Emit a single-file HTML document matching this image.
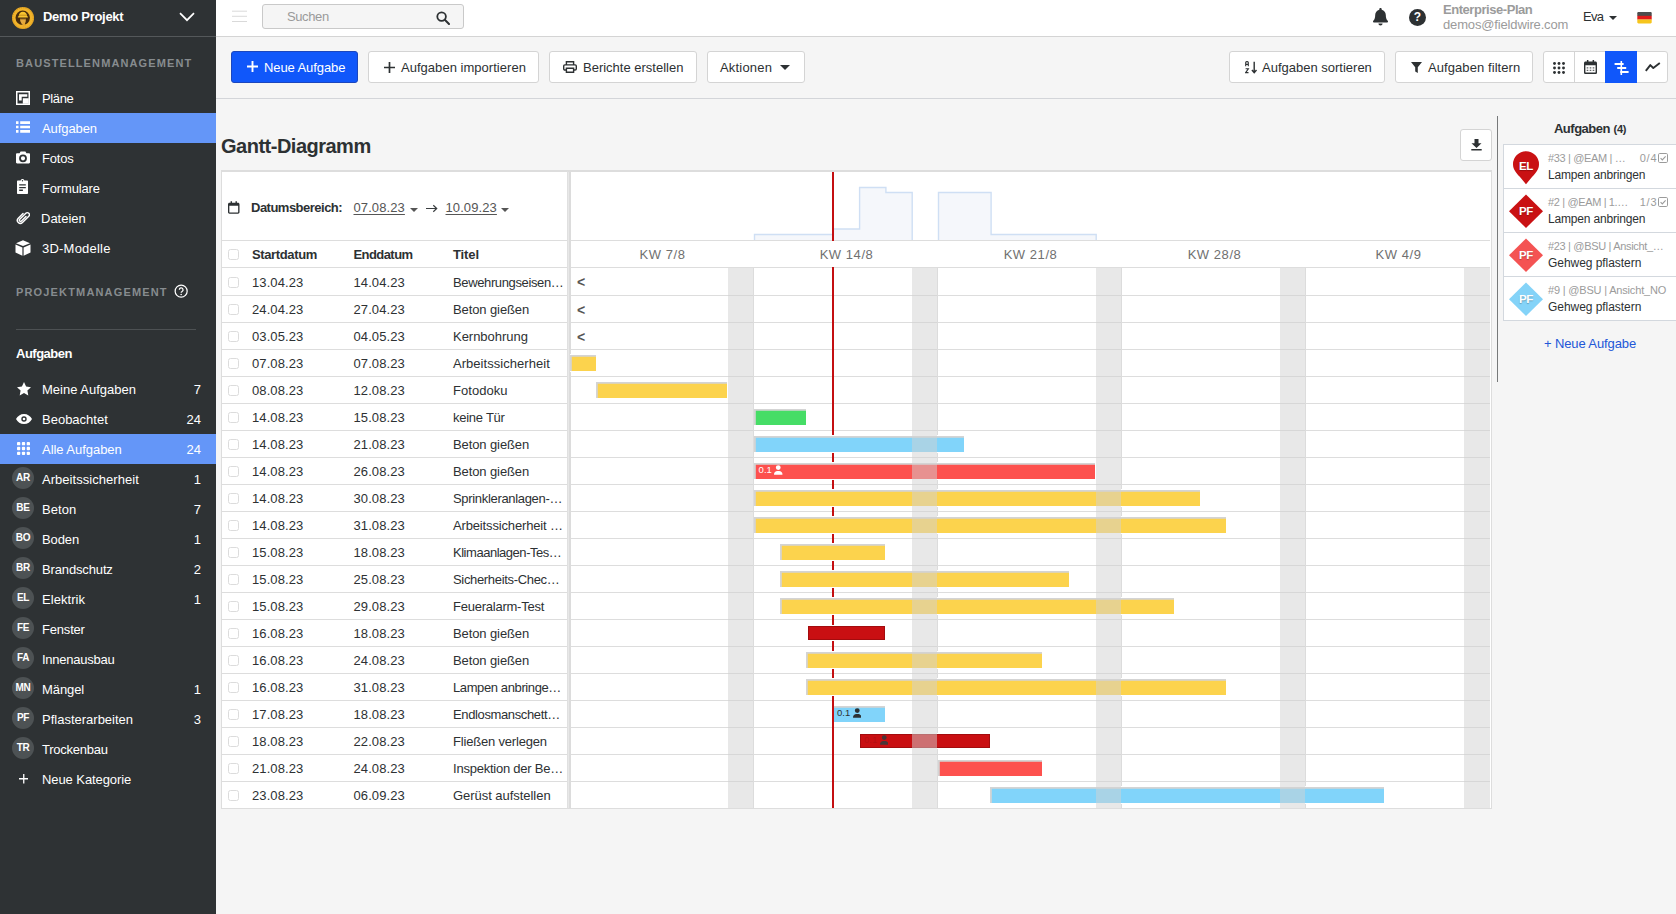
<!DOCTYPE html>
<html lang="de">
<head>
<meta charset="utf-8">
<title>Gantt-Diagramm</title>
<style>
*{box-sizing:border-box;margin:0;padding:0}
html,body{width:1676px;height:914px;overflow:hidden}
body{font-family:"Liberation Sans",sans-serif;-webkit-font-smoothing:antialiased;font-size:14px;color:#2d3133;background:#f5f5f5;position:relative}
svg{display:block}
.abs{position:absolute}
/* ---------- sidebar ---------- */
#sb{position:absolute;left:0;top:0;width:216px;height:914px;background:#2e3234;color:#fff}
#sb .hd{position:absolute;left:0;top:0;width:216px;height:37px;border-bottom:1px solid #54585a}
#sb .logo{position:absolute;left:12px;top:7px;width:22px;height:22px}
#sb .pn{position:absolute;left:43px;top:0;line-height:34px;font-weight:bold;font-size:13px;white-space:nowrap}
#sb .chev{position:absolute;left:179px;top:12px}
#sb .sec{position:absolute;left:16px;font-size:11px;font-weight:bold;color:#878c8f;line-height:14px;white-space:nowrap}
#sb .it{position:absolute;left:0;width:216px;height:30px;line-height:30px;font-size:13px;white-space:nowrap}
#sb .it.on{background:#6496f8}
#sb .it .ic{position:absolute;left:16px;top:8px;width:14px;height:14px;fill:#fff}
#sb .it .tx{position:absolute;left:42px;top:.7px}
#sb .it .ct{position:absolute;right:15px;top:.7px}
#sb .it .av{position:absolute;left:12px;top:3px;width:22px;height:22px;border-radius:11px;background:#4d5254;font-size:10px;font-weight:bold;line-height:22px;text-align:center;letter-spacing:-.3px}
#sb .hr{position:absolute;left:16px;top:329px;width:180px;height:1px;background:#4d5153}
#sb .h2{position:absolute;left:16px;top:344px;line-height:20px;font-weight:bold;font-size:13px}
/* ---------- top bar ---------- */
#tb{position:absolute;left:216px;top:0;width:1460px;height:37px;background:#fff;border-bottom:1px solid #d4d4d4}
#tb .srch{position:absolute;left:46px;top:4px;width:202px;height:25px;border:1px solid #c9c9c9;border-radius:3px;background:#f5f5f5;color:#9a9a9a;font-size:13px;line-height:23px;padding-left:24px}
/* ---------- tool bar ---------- */
#tl{position:absolute;left:216px;top:37px;width:1460px;height:62px;background:#f5f5f5;border-bottom:1px solid #d3d5d9}
.btn{position:absolute;top:14px;height:32px;border:1px solid #d4d4d4;border-radius:3px;background:#fff;color:#2d3133;font-size:13px;line-height:30px;white-space:nowrap}
.btn.pr{background:#1057fa;border-color:#1b46bd;color:#fff}
.btn svg{position:absolute}
.btn span{position:absolute;top:.7px}

#tb .qm{left:1193px;top:8.500px;width:17px;height:17px;line-height:17px;text-align:center;color:#fff;font-weight:bold;font-size:12px}
#tb .ep{left:1227px;top:0;line-height:19px;font-size:13px;font-weight:bold;color:#9b9b9b;white-space:nowrap}
#tb .em{left:1227px;top:15px;line-height:19px;font-size:13px;color:#9b9b9b;white-space:nowrap}
#tb .un{left:1367px;top:0;line-height:33px;font-size:13px;color:#2d3133;white-space:nowrap}
.btn.grp .dv{position:absolute;top:0;width:1px;height:30px;background:#d4d4d4}
.btn.grp .act{position:absolute;top:-1px;width:32px;height:32px;background:#1057fa}
/* ---------- main ---------- */
#ttl{position:absolute;left:221px;top:132px;font-size:20px;font-weight:bold;line-height:28px;letter-spacing:-.5px;color:#2d3133;white-space:nowrap}
#dl{position:absolute;left:1460px;top:129px;width:32px;height:32px;border:1px solid #d4d4d4;border-radius:3px;background:#fff}
#vl{position:absolute;left:1497px;top:116px;width:1px;height:266px;background:#77797a}
/* gantt */
#gl{position:absolute;left:221px;top:170px;width:347px;height:639px;background:#fff;border-left:1px solid #ddd;border-top:2px solid #ddd;border-right:1px solid #e0e0e0;border-bottom:1px solid #ddd}
#gr{position:absolute;left:571px;top:170px;width:921px;height:639px;background:#fff;border-top:2px solid #ddd;border-right:1px solid #ddd;border-bottom:1px solid #ddd}
#gsep{position:absolute;left:568px;top:170px;width:3px;height:639px;background:linear-gradient(to right,#e8e8e8 1px,#dcdcdc 1px);border-top:2px solid #ddd;border-bottom:1px solid #ddd}

.dr{top:24px;line-height:24px;font-size:13px;color:#555;white-space:nowrap}
.dr.u{text-decoration:underline;text-underline-offset:2px;text-decoration-thickness:1px}
.lr{position:absolute;left:0;width:345px;height:27px;border-top:1px solid #ddd;font-size:13px;line-height:27px;color:#2d3133;white-space:nowrap}
.lr.hd{font-weight:bold}
.lr .cb{position:absolute;left:6px;top:8px;width:11px;height:11px;border:1px solid #dcdcdc;border-radius:2.500px;background:#fff}
.lr span{position:absolute;top:0}
.lr .c1{left:30px}.lr .c2{left:131.500px}.lr .c3{left:231px}
.rl{position:absolute;left:0;width:919px;height:1px;background:#ddd}
.kw{position:absolute;top:69px;height:26px;background:#fff;z-index:1;line-height:27px;text-align:center;font-size:13px;color:#707070;white-space:nowrap}
.hist{position:absolute;left:0;top:0}
.hist path{fill:#f5f7fb;stroke:#cfdff4;stroke-width:1.400}
.today{position:absolute;top:0;width:2px;height:636px;background:#c40f11}
.lt{position:absolute;left:6px;height:27px;line-height:29.500px;font-size:14px;font-weight:bold;color:#555}
.bar{position:absolute;height:16px;box-shadow:inset 1.8px 1.7px 0 #d4d4d4,0 1px 0 #fff,0 -1px 0 #fff}
.bar.nl{box-shadow:inset 0 1.7px 0 #d4d4d4}.bar.nl .bt{left:3px}.bar.y{background:#fcd34d}.bar.g{background:#46dd66}.bar.b{background:#81d4fa}.bar.r{background:#fd514e}.bar.d{background:#c90f12;box-shadow:inset 0 0 0 1px #a30c0e,0 1px 0 #fff,0 -1px 0 #fff;height:14px;margin-top:1px}
.bt{position:absolute;left:4.800px;top:-.6px;line-height:16px;font-size:9.500px;white-space:nowrap}
.bt .pi{display:inline-block;width:8.500px;height:10px;margin-left:2.300px;vertical-align:-1.700px}
.bt.w{color:#fff}.bt.w .pi{fill:#fff}
.bt.k{color:#2d3133}.bt.k .pi{fill:#2d3133}
.bt.x{color:#b41013;top:-1.600px;left:4px}.bt.x .pi{fill:#4a3436}
.we{position:absolute;top:96px;height:540px;background:rgba(209,209,209,.5)}
.ws{position:absolute;top:96px;width:1px;height:540px;background:#dcdcdc}

#pn{position:absolute;left:1503px;top:116px;width:173px;height:280px}
#pn .pt{left:0;top:4.300px;width:174px;text-align:center;line-height:18px;font-size:13px;color:#2d3133;white-space:nowrap}
#pn .cards{position:absolute;left:0;top:28px;width:174px;height:177px;border:1px solid #d3d8de;border-right:0;background:#fff}
#pn .cd{position:absolute;left:0;width:173px;height:44px;border-top:1px solid #d3d8de;margin-top:-1px}
#pn .cd .mk{position:absolute;left:4px;top:4px;width:36px;height:36px}
#pn .cd .mt{position:absolute;left:4px;top:12px;width:36px;text-align:center;line-height:20px;font-size:11.500px;font-weight:bold;color:#fff;letter-spacing:-.3px;text-shadow:0 1px 1px rgba(0,0,0,.25)}
#pn .cd .l1{position:absolute;left:44px;top:5px;line-height:16px;font-size:11px;color:#9b9b9b;white-space:nowrap}
#pn .cd .l2{position:absolute;left:44px;top:21px;line-height:18px;font-size:12px;color:#2d3133;white-space:nowrap}
#pn .cd .rt{position:absolute;right:19.600px;top:5px;line-height:16px;font-size:11px;color:#9b9b9b}
#pn .cd .ck{position:absolute;left:154.200px;top:7.800px;width:10px;height:10px}
#pn .nl{left:0;top:217.500px;width:174px;text-align:center;line-height:20px;font-size:13px;color:#2257d8;white-space:nowrap}
</style>
</head>
<body>
<div id="sb">
<div class="hd">
<svg class="logo" viewBox="0 0 22 22"><circle cx="11" cy="11" r="11" fill="#f2b42a"/><circle cx="11" cy="11" r="10.300" fill="none" stroke="#b87a17" stroke-width=".6" stroke-dasharray="1.200 1"/><circle cx="10.700" cy="10.800" r="7.200" fill="#472c0d"/><path d="M6.700 9.300a4.200 4.500 0 0 1 8.400 0l.8.200v1H5.900v-1z" fill="#f8c430"/><path d="M7 8.200h7.800" stroke="#b07a18" stroke-width=".7"/><path d="M8.100 11.600h5.700v1.800c0 1.900-.9 3.200-1.900 4.500l-2.100-.3c.4-1.200-1.700-2.500-1.700-4.300z" fill="#e4aa42"/><path d="M8.100 11.300h5.700v1H8.100z" fill="#5a3a12"/><path d="M11.600 14l2.700 5-3.900 1.300z" fill="#e8a92c" opacity=".9"/></svg>
<div class="pn"><span style="letter-spacing:-.29px">Demo Projekt</span></div>
<svg class="chev" width="16" height="10" viewBox="0 0 16 10"><path d="M1 1.200l7 7 7-7" fill="none" stroke="#fff" stroke-width="1.700"/></svg>
</div>
<div class="sec" style="top:56px"><span style="letter-spacing:1.12px">BAUSTELLENMANAGEMENT</span></div>
<div class="it" style="top:83px"><svg class="ic" style="left:15.5px;top:7.500px" viewBox="0 0 14 14"><path d="M0 0h14v14H0zM1.500 1.500v11h11v-11z" fill-rule="evenodd"/><path d="M3 3.300h8.300v2.400H5.700v3.700H3zM6.800 7.300h6v5.500h-6z"/></svg><span class="tx"><span style="letter-spacing:-.37px">Pläne</span></span></div>
<div class="it on" style="top:113px"><svg class="ic" style="left:15.5px;top:8.200px;height:12px" viewBox="0 0 14 12"><path d="M0 .3h2.500v2.600H0zM4.200 .3H14v2.600H4.200zM0 4.700h2.500v2.600H0zM4.200 4.700H14v2.600H4.200zM0 9.100h2.500v2.600H0zM4.200 9.100H14v2.600H4.200z"/></svg><span class="tx"><span style="letter-spacing:-.08px">Aufgaben</span></span></div>
<div class="it" style="top:143px"><svg class="ic" style="left:15.5px;top:8px;width:14px;height:13px" viewBox="0 0 14 13"><path d="M4.600.500h4.800l1 1.700h2.500c.6 0 1.100.5 1.100 1.100v8c0 .6-.5 1.100-1.100 1.100H1.100C.5 12.400 0 11.900 0 11.300v-8c0-.6.500-1.100 1.100-1.100h2.500zM7 3.400a3.900 3.900 0 1 0 0 7.800 3.900 3.900 0 0 0 0-7.800zm0 1.800a2.100 2.100 0 1 1 0 4.200 2.100 2.100 0 0 1 0-4.200z" fill-rule="evenodd"/></svg><span class="tx"><span style="letter-spacing:-.17px">Fotos</span></span></div>
<div class="it" style="top:173px"><svg class="ic" style="left:16.5px;top:6px;width:11px;height:15px" viewBox="0 0 11 15"><path d="M5.500 0c.9 0 1.600.6 1.800 1.400H10c.6 0 1 .4 1 1V14c0 .6-.4 1-1 1H1c-.6 0-1-.4-1-1V2.400c0-.6.400-1 1-1h2.700C3.900.6 4.600 0 5.500 0zm0 1.100a.7.7 0 1 0 0 1.400.7.700 0 0 0 0-1.400zM2.200 5.200v1.300h6.600V5.200zm0 2.700v1.300h6.600V7.900zm0 2.700v1.300h3.700v-1.300z" fill-rule="evenodd"/></svg><span class="tx"><span style="letter-spacing:-.17px">Formulare</span></span></div>
<div class="it" style="top:203px"><svg class="ic" style="left:15.500px;top:7px;width:14px;height:15px;fill:none" viewBox="0 0 14 15"><g transform="translate(7.100 7.700) rotate(45) scale(1.1)"><path d="M-2.700-2.600V3.500A2.700 2.700 0 0 0 2.700 3.500V-4.600A1.900 1.900 0 0 0-1.100-4.600V3.200A1.100 1.100 0 0 0 1.100 3.200V-2.600" stroke="#fff" stroke-width="1.300" stroke-linecap="round"/></g></svg><span class="tx" style="left:41px">Dateien</span></div>
<div class="it" style="top:233px"><svg class="ic" style="left:14.500px;top:6.500px;width:16px;height:16px" viewBox="0 0 16 16"><path d="M8 .300l7 2.900-7 2.900-7-2.900zM.5 4.500l6.900 2.900v8.300L.5 12.600zM15.500 4.500v8.100l-6.900 3.100V7.400z"/></svg><span class="tx"><span style="letter-spacing:.22px">3D-Modelle</span></span></div>
<div class="sec" style="top:285px"><span style="letter-spacing:1.16px">PROJEKTMANAGEMENT</span></div>
<svg class="abs" style="left:173.500px;top:284.300px" width="14.300" height="14.300" viewBox="0 0 15 15"><circle cx="7.500" cy="7.500" r="6.300" fill="none" stroke="#fff" stroke-width="1.300"/><path d="M5.600 6.100a1.950 1.950 0 1 1 2.900 1.700c-.7.400-1 .8-1 1.500" fill="none" stroke="#fff" stroke-width="1.300"/><circle cx="7.500" cy="11" r=".85" fill="#fff"/></svg>
<div class="hr"></div>
<div class="h2"><span style="letter-spacing:-.50px">Aufgaben</span></div>
<div class="it" style="top:374px"><svg class="ic" style="left:16.500px;top:8px;width:14px;height:13.500px" viewBox="0 0 14 13.500"><path d="M7 0l2.100 4.600 4.900.6-3.600 3.400.9 4.900L7 11.100l-4.300 2.400.9-4.900L0 5.200l4.900-.6z"/></svg><span class="tx">Meine Aufgaben</span><span class="ct">7</span></div>
<div class="it" style="top:404px"><svg class="ic" style="left:15.500px;top:9.500px;width:16px;height:10px" viewBox="0 0 16 10"><path d="M8 0c3.500 0 6.500 2 8 5-1.500 3-4.500 5-8 5S1.500 8 0 5c1.500-3 4.500-5 8-5zm0 2.300a2.700 2.700 0 1 0 0 5.400 2.700 2.700 0 0 0 0-5.400z" fill-rule="evenodd"/><circle cx="8" cy="5" r="1.300"/></svg><span class="tx">Beobachtet</span><span class="ct">24</span></div>
<div class="it on" style="top:434px"><svg class="ic" style="left:17px;top:8px;width:13px;height:13px" viewBox="0 0 13 13"><g><rect x="0" y="0" width="3.300" height="3.300" rx=".9"/><rect x="4.850" y="0" width="3.300" height="3.300" rx=".9"/><rect x="9.700" y="0" width="3.300" height="3.300" rx=".9"/><rect x="0" y="4.850" width="3.300" height="3.300" rx=".9"/><rect x="4.850" y="4.850" width="3.300" height="3.300" rx=".9"/><rect x="9.700" y="4.850" width="3.300" height="3.300" rx=".9"/><rect x="0" y="9.700" width="3.300" height="3.300" rx=".9"/><rect x="4.850" y="9.700" width="3.300" height="3.300" rx=".9"/><rect x="9.700" y="9.700" width="3.300" height="3.300" rx=".9"/></g></svg><span class="tx"><span style="letter-spacing:-.04px">Alle Aufgaben</span></span><span class="ct">24</span></div>
<div class="it" style="top:464px"><span class="av">AR</span><span class="tx"><span style="letter-spacing:.04px">Arbeitssicherheit</span></span><span class="ct">1</span></div>
<div class="it" style="top:494px"><span class="av">BE</span><span class="tx"><span style="letter-spacing:.08px">Beton</span></span><span class="ct">7</span></div>
<div class="it" style="top:524px"><span class="av">BO</span><span class="tx"><span style="letter-spacing:-.10px">Boden</span></span><span class="ct">1</span></div>
<div class="it" style="top:554px"><span class="av">BR</span><span class="tx"><span style="letter-spacing:-.14px">Brandschutz</span></span><span class="ct">2</span></div>
<div class="it" style="top:584px"><span class="av">EL</span><span class="tx"><span style="letter-spacing:.06px">Elektrik</span></span><span class="ct">1</span></div>
<div class="it" style="top:614px"><span class="av">FE</span><span class="tx"><span style="letter-spacing:-.19px">Fenster</span></span></div>
<div class="it" style="top:644px"><span class="av">FA</span><span class="tx"><span style="letter-spacing:-.24px">Innenausbau</span></span></div>
<div class="it" style="top:674px"><span class="av">MN</span><span class="tx"><span style="letter-spacing:-.08px">Mängel</span></span><span class="ct">1</span></div>
<div class="it" style="top:704px"><span class="av">PF</span><span class="tx">Pflasterarbeiten</span><span class="ct">3</span></div>
<div class="it" style="top:734px"><span class="av">TR</span><span class="tx"><span style="letter-spacing:-.25px">Trockenbau</span></span></div>
<div class="it" style="top:764px"><svg class="ic" style="left:18.700px;top:10px;width:9.500px;height:9.500px" viewBox="0 0 9.500 9.500"><path d="M4.100 0h1.300v4.100h4.100v1.300H5.400v4.100H4.100V5.400H0V4.100h4.100z"/></svg><span class="tx"><span style="letter-spacing:-.08px">Neue Kategorie</span></span></div>

</div>
<div id="tb">
<svg class="abs" style="left:16px;top:10px" width="15" height="12" viewBox="0 0 15 12"><path d="M0 1.200h15M0 6.300h15M0 11.500h15" stroke="#cfcfcf" stroke-width=".8"/></svg>
<div class="srch"><span style="letter-spacing:-.39px">Suchen</span></div>
<svg class="abs" style="left:219.500px;top:10.500px" width="14" height="14" viewBox="0 0 14 14"><circle cx="5.600" cy="5.600" r="4.300" fill="none" stroke="#2d3133" stroke-width="1.800"/><path d="M8.800 8.800l4.200 4.200" stroke="#2d3133" stroke-width="2" stroke-linecap="round"/></svg>
<svg class="abs" style="left:1157px;top:8px" width="15" height="18" viewBox="0 0 15 18"><path d="M7.500 0c.7 0 1.200.5 1.200 1.200v.5c2.500.6 4.100 2.700 4.100 5.300 0 3.300.8 4.500 1.700 5.400.3.300.5.600.5 1 0 .7-.5 1.100-1.200 1.100H1.200C.5 14.500 0 14.100 0 13.400c0-.4.200-.7.500-1C1.400 11.500 2.200 10.300 2.200 7c0-2.600 1.600-4.700 4.100-5.300v-.5C6.300.5 6.800 0 7.500 0zM5.400 15.500h4.200a2.100 2.100 0 0 1-4.200 0z" fill="#2d3133"/></svg>
<svg class="abs" style="left:1193px;top:8.500px" width="17" height="17" viewBox="0 0 17 17"><circle cx="8.500" cy="8.500" r="8.500" fill="#2d3133"/></svg>
<div class="abs qm">?</div>
<div class="abs ep"><span style="letter-spacing:-.45px">Enterprise-Plan</span></div>
<div class="abs em"><span style="letter-spacing:-.15px">demos@fieldwire.com</span></div>
<div class="abs un"><span style="letter-spacing:-.72px">Eva</span></div>
<svg class="abs" style="left:1392.500px;top:15.500px" width="8" height="4" viewBox="0 0 8 4"><path d="M0 0h8L4 4z" fill="#2d3133"/></svg>
<svg class="abs" style="left:1421px;top:11.500px" width="15" height="12" viewBox="0 0 15 12"><path d="M.3 1.300c0-.7.500-1.200 1.200-1.200h12c.7 0 1.200.5 1.200 1.200V3.900H.3z" fill="#4d4d4d"/><rect x=".3" y="3.800" width="14.400" height="3.800" fill="#e21a1a"/><path d="M.3 7.500h14.400v2.700c0 .7-.5 1.200-1.200 1.200h-12c-.7 0-1.200-.5-1.200-1.200z" fill="#f6c51d"/></svg>

</div>
<div id="tl">
<div class="btn pr" style="left:15px;width:127px"><svg style="left:14.500px;top:9px" width="11" height="11" viewBox="0 0 11 11"><path d="M5.500 0v11M0 5.500h11" stroke="#fff" stroke-width="1.900"/></svg><span style="left:32px"><span style="letter-spacing:-.09px">Neue Aufgabe</span></span></div>
<div class="btn" style="left:152px;width:171px"><svg style="left:14.500px;top:9.500px" width="11" height="11" viewBox="0 0 11 11"><path d="M5.500 0v11M0 5.500h11" stroke="#2d3133" stroke-width="1.700"/></svg><span style="left:32px"><span style="letter-spacing:.03px">Aufgaben importieren</span></span></div>
<div class="btn" style="left:333px;width:148px"><svg style="left:13px;top:9px" width="14" height="12" viewBox="0 0 14 12"><path d="M3.400 3.200V.7h7.200v2.500M3.400 9H1.900C1.200 9 .7 8.500.7 7.800V5.100c0-.7.500-1.200 1.200-1.200h10.200c.7 0 1.200.5 1.200 1.200v2.700c0 .7-.5 1.200-1.200 1.200h-1.500M3.400 7.200h7.200v4.100H3.400z" fill="none" stroke="#2d3133" stroke-width="1.400"/></svg><span style="left:33px">Berichte erstellen</span></div>
<div class="btn" style="left:491px;width:98px"><span style="left:12px"><span style="letter-spacing:.19px">Aktionen</span></span><svg style="left:72px;top:13px" width="10" height="5" viewBox="0 0 10 5"><path d="M0 0h10L5 5z" fill="#2d3133"/></svg></div>
<div class="btn" style="left:1013px;width:156px"><svg style="left:15px;top:9px" width="13" height="13" viewBox="0 0 13 13"><path d="M9.200 .8v10.400M6.900 9l2.300 2.600L11.500 9" fill="none" stroke="#2d3133" stroke-width="1.400"/><path d="M.7 5.200V1.600c0-.6.400-1 1-1h.6c.6 0 1 .4 1 1v3.600M.7 3.400h2.600M.6 7.700h2.800L.6 11.600h2.900" fill="none" stroke="#2d3133" stroke-width="1.100"/></svg><span style="left:32px">Aufgaben sortieren</span></div>
<div class="btn" style="left:1179px;width:138px"><svg style="left:14.500px;top:9.500px" width="11" height="12" viewBox="0 0 11 12"><path d="M0 0h11L6.800 5.300V11L4.200 9.600V5.300z" fill="#2d3133"/></svg><span style="left:32px"><span style="letter-spacing:.08px">Aufgaben filtern</span></span></div>
<div class="btn grp" style="left:1327px;width:125px">
<svg style="left:9px;top:9.500px" width="12" height="12" viewBox="0 0 12 12"><g fill="#2d3133"><circle cx="1.500" cy="1.500" r="1.450"/><circle cx="6" cy="1.500" r="1.450"/><circle cx="10.500" cy="1.500" r="1.450"/><circle cx="1.500" cy="6" r="1.450"/><circle cx="6" cy="6" r="1.450"/><circle cx="10.500" cy="6" r="1.450"/><circle cx="1.500" cy="10.500" r="1.450"/><circle cx="6" cy="10.500" r="1.450"/><circle cx="10.500" cy="10.500" r="1.450"/></g></svg>
<i class="dv" style="left:30px"></i>
<svg style="left:39.500px;top:8px" width="13" height="14" viewBox="0 0 13 14"><path d="M2.900 0h1.500v1.600h4.200V0h1.500v1.600h1.300c.9 0 1.600.7 1.600 1.600v9.200c0 .9-.7 1.600-1.600 1.600H1.600C.7 14 0 13.300 0 12.400V3.200c0-.9.700-1.600 1.600-1.600h1.300zM1.400 5.300v7c0 .2.100.3.300.3h9.600c.2 0 .3-.1.300-.3v-7z" fill="#2d3133" fill-rule="evenodd"/><path d="M2.700 7.200h1.600v1.300H2.700zm3 0h1.600v1.300H5.700zm3 0h1.600v1.300H8.700zM2.700 9.800h1.600v1.300H2.700zm3 0h1.600v1.300H5.700zm3 0h1.600v1.300H8.700z" fill="#2d3133" opacity=".75"/></svg>
<i class="act" style="left:61px"></i>
<svg style="left:70px;top:8.500px" width="15" height="14" viewBox="0 0 15 14"><path d="M7.300 0v14" stroke="#fff" stroke-width="1.600"/><path d="M.6 2h9v2H.6zM3.200 6h9v2h-9zM6.300 10h8.300v2H6.300z" fill="#fff"/></svg>
<svg style="left:101px;top:10px" width="16" height="10" viewBox="0 0 16 10"><path d="M.8 8.900l4.500-5.800 3 2.900L14.800 1" fill="none" stroke="#2d3133" stroke-width="1.900" stroke-linejoin="round"/></svg>
</div>

</div>
<div id="ttl">Gantt-Diagramm</div>
<div id="dl"><svg class="abs" style="left:9.500px;top:8.700px" width="11" height="12" viewBox="0 0 11 12"><path d="M3.500 0h4v4.200h3L5.500 9 .5 4.200h3zM.3 10.100h10.400v1.400H.3z" fill="#2d3133"/></svg>
</div>
<div id="vl"></div>
<div id="gl">
<svg class="abs" style="left:6px;top:29px" width="11.500" height="13" viewBox="0 0 12 13"><path d="M2.700 0h1.500v1.500h3.600V0h1.500v1.500h1.200c.8 0 1.500.7 1.500 1.500v8.500c0 .8-.7 1.500-1.500 1.500h-9C.7 13 0 12.300 0 11.500V3c0-.8.700-1.500 1.500-1.500h1.200zM1.400 4.700v6.600c0 .2.100.3.300.3h8.600c.2 0 .3-.1.300-.3V4.700z" fill="#2d3133" fill-rule="evenodd"/></svg>
<div class="abs dr" style="left:29px;font-weight:bold;color:#2d3133"><span style="letter-spacing:-.51px">Datumsbereich:</span></div>
<div class="abs dr u" style="left:131.500px"><span style="letter-spacing:.10px">07.08.23</span></div>
<svg class="abs" style="left:188px;top:35.500px" width="8" height="4" viewBox="0 0 8 4"><path d="M0 0h8L4 4z" fill="#555"/></svg>
<svg class="abs" style="left:204px;top:31.500px" width="12" height="9" viewBox="0 0 12 9"><path d="M0 4.500h10.500M7.300 1.300l3.400 3.200-3.400 3.200" fill="none" stroke="#3a3e40" stroke-width="1.200"/></svg>
<div class="abs dr u" style="left:223.500px"><span style="letter-spacing:.10px">10.09.23</span></div>
<svg class="abs" style="left:279px;top:35.500px" width="8" height="4" viewBox="0 0 8 4"><path d="M0 0h8L4 4z" fill="#555"/></svg>
<div class="lr hd" style="top:68px"><i class="cb"></i><span class="c1"><span style="letter-spacing:-.37px">Startdatum</span></span><span class="c2"><span style="letter-spacing:-.57px">Enddatum</span></span><span class="c3"><span style="letter-spacing:-.10px">Titel</span></span></div>
<div class="lr" style="top:95px;height:29px;line-height:29.500px"><i class="cb" style="top:9px"></i><span class="c1"><span style="letter-spacing:.10px">13.04.23</span></span><span class="c2"><span style="letter-spacing:.10px">14.04.23</span></span><span class="c3"><span style="letter-spacing:-.37px">Bewehrungseisen…</span></span></div>
<div class="lr" style="top:123px"><i class="cb"></i><span class="c1"><span style="letter-spacing:.10px">24.04.23</span></span><span class="c2"><span style="letter-spacing:.10px">27.04.23</span></span><span class="c3"><span style="letter-spacing:-.10px">Beton gießen</span></span></div>
<div class="lr" style="top:150px"><i class="cb"></i><span class="c1"><span style="letter-spacing:.10px">03.05.23</span></span><span class="c2"><span style="letter-spacing:.10px">04.05.23</span></span><span class="c3"><span style="letter-spacing:-.03px">Kernbohrung</span></span></div>
<div class="lr" style="top:177px"><i class="cb"></i><span class="c1"><span style="letter-spacing:.10px">07.08.23</span></span><span class="c2"><span style="letter-spacing:.10px">07.08.23</span></span><span class="c3"><span style="letter-spacing:.04px">Arbeitssicherheit</span></span></div>
<div class="lr" style="top:204px"><i class="cb"></i><span class="c1"><span style="letter-spacing:.10px">08.08.23</span></span><span class="c2"><span style="letter-spacing:.10px">12.08.23</span></span><span class="c3"><span style="letter-spacing:.04px">Fotodoku</span></span></div>
<div class="lr" style="top:231px"><i class="cb"></i><span class="c1"><span style="letter-spacing:.10px">14.08.23</span></span><span class="c2"><span style="letter-spacing:.10px">15.08.23</span></span><span class="c3"><span style="letter-spacing:-.26px">keine Tür</span></span></div>
<div class="lr" style="top:258px"><i class="cb"></i><span class="c1"><span style="letter-spacing:.10px">14.08.23</span></span><span class="c2"><span style="letter-spacing:.10px">21.08.23</span></span><span class="c3"><span style="letter-spacing:-.10px">Beton gießen</span></span></div>
<div class="lr" style="top:285px"><i class="cb"></i><span class="c1"><span style="letter-spacing:.10px">14.08.23</span></span><span class="c2"><span style="letter-spacing:.10px">26.08.23</span></span><span class="c3"><span style="letter-spacing:-.10px">Beton gießen</span></span></div>
<div class="lr" style="top:312px"><i class="cb"></i><span class="c1"><span style="letter-spacing:.10px">14.08.23</span></span><span class="c2"><span style="letter-spacing:.10px">30.08.23</span></span><span class="c3"><span style="letter-spacing:-.32px">Sprinkleranlagen-…</span></span></div>
<div class="lr" style="top:339px"><i class="cb"></i><span class="c1"><span style="letter-spacing:.10px">14.08.23</span></span><span class="c2"><span style="letter-spacing:.10px">31.08.23</span></span><span class="c3"><span style="letter-spacing:-.15px">Arbeitssicherheit …</span></span></div>
<div class="lr" style="top:366px"><i class="cb"></i><span class="c1"><span style="letter-spacing:.10px">15.08.23</span></span><span class="c2"><span style="letter-spacing:.10px">18.08.23</span></span><span class="c3"><span style="letter-spacing:-.47px">Klimaanlagen-Tes…</span></span></div>
<div class="lr" style="top:393px"><i class="cb"></i><span class="c1"><span style="letter-spacing:.10px">15.08.23</span></span><span class="c2"><span style="letter-spacing:.10px">25.08.23</span></span><span class="c3"><span style="letter-spacing:-.33px">Sicherheits-Chec…</span></span></div>
<div class="lr" style="top:420px"><i class="cb"></i><span class="c1"><span style="letter-spacing:.10px">15.08.23</span></span><span class="c2"><span style="letter-spacing:.10px">29.08.23</span></span><span class="c3"><span style="letter-spacing:-.24px">Feueralarm-Test</span></span></div>
<div class="lr" style="top:447px"><i class="cb"></i><span class="c1"><span style="letter-spacing:.10px">16.08.23</span></span><span class="c2"><span style="letter-spacing:.10px">18.08.23</span></span><span class="c3"><span style="letter-spacing:-.10px">Beton gießen</span></span></div>
<div class="lr" style="top:474px"><i class="cb"></i><span class="c1"><span style="letter-spacing:.10px">16.08.23</span></span><span class="c2"><span style="letter-spacing:.10px">24.08.23</span></span><span class="c3"><span style="letter-spacing:-.10px">Beton gießen</span></span></div>
<div class="lr" style="top:501px"><i class="cb"></i><span class="c1"><span style="letter-spacing:.10px">16.08.23</span></span><span class="c2"><span style="letter-spacing:.10px">31.08.23</span></span><span class="c3"><span style="letter-spacing:-.39px">Lampen anbringe…</span></span></div>
<div class="lr" style="top:528px"><i class="cb"></i><span class="c1"><span style="letter-spacing:.10px">17.08.23</span></span><span class="c2"><span style="letter-spacing:.10px">18.08.23</span></span><span class="c3"><span style="letter-spacing:-.37px">Endlosmanschett…</span></span></div>
<div class="lr" style="top:555px"><i class="cb"></i><span class="c1"><span style="letter-spacing:.10px">18.08.23</span></span><span class="c2"><span style="letter-spacing:.10px">22.08.23</span></span><span class="c3"><span style="letter-spacing:-.19px">Fließen verlegen</span></span></div>
<div class="lr" style="top:582px"><i class="cb"></i><span class="c1"><span style="letter-spacing:.10px">21.08.23</span></span><span class="c2"><span style="letter-spacing:.10px">24.08.23</span></span><span class="c3"><span style="letter-spacing:-.23px">Inspektion der Be…</span></span></div>
<div class="lr" style="top:609px"><i class="cb"></i><span class="c1"><span style="letter-spacing:.10px">23.08.23</span></span><span class="c2"><span style="letter-spacing:.10px">06.09.23</span></span><span class="c3"><span style="letter-spacing:-.04px">Gerüst aufstellen</span></span></div>
</div>
<div id="gsep"></div>
<div id="gr">
<svg class="hist" width="921" height="68" viewBox="0 0 921 68"><path d="M183.5 68.0 L183.5 62.5 L262.4 62.5 L262.4 57.0 L288.6 57.0 L288.6 15.5 L314.9 15.5 L314.9 20.5 L341.2 20.5 L341.2 68.0" /><path d="M367.5 68.0 L367.5 20.5 L420.1 20.5 L420.1 62.5 L525.2 62.5 L525.2 68.0"/></svg>
<div class="rl" style="top:68px"></div>
<div class="kw" style="left:-0.5px;width:184.0px"><span style="letter-spacing:.59px">KW 7/8</span></div>
<div class="kw" style="left:183.5px;width:184.0px"><span style="letter-spacing:.55px">KW 14/8</span></div>
<div class="kw" style="left:367.5px;width:184.0px"><span style="letter-spacing:.55px">KW 21/8</span></div>
<div class="kw" style="left:551.5px;width:184.0px"><span style="letter-spacing:.55px">KW 28/8</span></div>
<div class="kw" style="left:735.5px;width:184.0px"><span style="letter-spacing:.59px">KW 4/9</span></div>
<div class="rl" style="top:95px"></div>
<div class="rl" style="top:123px"></div>
<div class="rl" style="top:150px"></div>
<div class="rl" style="top:177px"></div>
<div class="rl" style="top:204px"></div>
<div class="rl" style="top:231px"></div>
<div class="rl" style="top:258px"></div>
<div class="rl" style="top:285px"></div>
<div class="rl" style="top:312px"></div>
<div class="rl" style="top:339px"></div>
<div class="rl" style="top:366px"></div>
<div class="rl" style="top:393px"></div>
<div class="rl" style="top:420px"></div>
<div class="rl" style="top:447px"></div>
<div class="rl" style="top:474px"></div>
<div class="rl" style="top:501px"></div>
<div class="rl" style="top:528px"></div>
<div class="rl" style="top:555px"></div>
<div class="rl" style="top:582px"></div>
<div class="rl" style="top:609px"></div>
<div class="ws" style="left:181.9px"></div>
<div class="ws" style="left:365.9px"></div>
<div class="ws" style="left:549.9px"></div>
<div class="ws" style="left:733.9px"></div>
<div class="today" style="left:261.4px"></div>
<div class="lt" style="top:96px">&lt;</div>
<div class="lt" style="top:124px">&lt;</div>
<div class="lt" style="top:151px">&lt;</div>
<div class="bar y" style="top:183px;left:-1.2px;width:25.8px"></div>
<div class="bar y" style="top:210px;left:25.1px;width:130.9px"></div>
<div class="bar g" style="top:237px;left:182.8px;width:52.1px"></div>
<div class="bar b" style="top:264px;left:182.8px;width:209.8px"></div>
<div class="bar r" style="top:291px;left:182.8px;width:341.2px"><span class="bt w">0.1<svg class="pi" viewBox="0 0 448 512"><path d="M224 256A128 128 0 1 0 224 0a128 128 0 1 0 0 256zm-45.700 48C79.800 304 0 383.800 0 482.300C0 498.700 13.300 512 29.700 512H418.300c16.400 0 29.700-13.300 29.700-29.700C448 383.800 368.200 304 269.700 304H178.300z"/></svg></span></div>
<div class="bar y" style="top:318px;left:182.8px;width:446.4px"></div>
<div class="bar y" style="top:345px;left:182.8px;width:472.6px"></div>
<div class="bar y" style="top:372px;left:209.1px;width:104.6px"></div>
<div class="bar y" style="top:399px;left:209.1px;width:288.6px"></div>
<div class="bar y" style="top:426px;left:209.1px;width:393.8px"></div>
<div class="bar d" style="top:453px;left:236.5px;width:77.3px"></div>
<div class="bar y" style="top:480px;left:235.4px;width:236.1px"></div>
<div class="bar y" style="top:507px;left:235.4px;width:420.1px"></div>
<div class="bar b nl" style="top:534px;left:263.0px;width:50.8px"><span class="bt k">0.1<svg class="pi" viewBox="0 0 448 512"><path d="M224 256A128 128 0 1 0 224 0a128 128 0 1 0 0 256zm-45.700 48C79.800 304 0 383.800 0 482.300C0 498.700 13.300 512 29.700 512H418.300c16.400 0 29.700-13.300 29.700-29.700C448 383.800 368.200 304 269.700 304H178.300z"/></svg></span></div>
<div class="bar d" style="top:561px;left:289.0px;width:129.8px"><span class="bt x">0.1<svg class="pi" viewBox="0 0 448 512"><path d="M224 256A128 128 0 1 0 224 0a128 128 0 1 0 0 256zm-45.700 48C79.800 304 0 383.800 0 482.300C0 498.700 13.300 512 29.700 512H418.300c16.400 0 29.700-13.300 29.700-29.700C448 383.800 368.200 304 269.700 304H178.300z"/></svg></span></div>
<div class="bar r" style="top:588px;left:366.8px;width:104.6px"></div>
<div class="bar b" style="top:615px;left:419.4px;width:393.8px"></div>
<div class="we" style="left:157.2px;width:25.3px"></div>
<div class="we" style="left:341.2px;width:25.3px"></div>
<div class="we" style="left:525.2px;width:25.3px"></div>
<div class="we" style="left:709.2px;width:25.3px"></div>
<div class="we" style="left:893.2px;width:25.9px"></div>
</div>

<div id="pn">
<div class="abs pt"><b><span style="letter-spacing:-.50px">Aufgaben</span></b> <b style="font-size:11px"><span style="letter-spacing:-.34px">(4)</span></b></div>
<div class="cards">
<div class="cd" style="top:0"><svg class="mk" viewBox="0 0 36 36"><path d="M18 2.200a13 13 0 0 1 13 13c0 5.200-3.300 8.800-6.800 12.600L18 35.300l-6.200-7.500C8.300 24 5 20.400 5 15.200a13 13 0 0 1 13-13z" fill="#c91113"/></svg><span class="mt" style="top:10.500px">EL</span><span class="l1"><span style="letter-spacing:-.35px">#33 | @EAM | …</span></span><span class="l2"><span style="letter-spacing:-.17px">Lampen anbringen</span></span><span class="rt"><span style="letter-spacing:.81px">0/4</span></span><svg class="ck" viewBox="0 0 10 10"><rect x=".5" y=".5" width="9" height="9" rx="1.200" fill="none" stroke="#9b9b9b"/><path d="M2.600 5.200l1.700 1.700 3.300-3.600" fill="none" stroke="#9b9b9b" stroke-width="1.100"/></svg></div>
<div class="cd" style="top:44px"><svg class="mk" viewBox="0 0 36 36"><path d="M18 1.500l17 16.800-17 16.700L1 18.300z" fill="#c91113"/></svg><span class="mt">PF</span><span class="l1"><span style="letter-spacing:-.36px">#2 | @EAM | 1.…</span></span><span class="l2"><span style="letter-spacing:-.17px">Lampen anbringen</span></span><span class="rt"><span style="letter-spacing:.81px">1/3</span></span><svg class="ck" viewBox="0 0 10 10"><rect x=".5" y=".5" width="9" height="9" rx="1.200" fill="none" stroke="#9b9b9b"/><path d="M2.600 5.200l1.700 1.700 3.300-3.600" fill="none" stroke="#9b9b9b" stroke-width="1.100"/></svg></div>
<div class="cd" style="top:88px"><svg class="mk" viewBox="0 0 36 36"><path d="M18 1.500l17 16.800-17 16.700L1 18.300z" fill="#f45353"/></svg><span class="mt">PF</span><span class="l1"><span style="letter-spacing:-.33px">#23 | @BSU | Ansicht_…</span></span><span class="l2"><span style="letter-spacing:-.05px">Gehweg pflastern</span></span></div>
<div class="cd" style="top:132px"><svg class="mk" viewBox="0 0 36 36"><path d="M18 1.500l17 16.800-17 16.700L1 18.300z" fill="#84d3f8"/></svg><span class="mt">PF</span><span class="l1"><span style="letter-spacing:-.18px">#9 | @BSU | Ansicht_NO</span></span><span class="l2"><span style="letter-spacing:-.05px">Gehweg pflastern</span></span></div>
</div>
<div class="abs nl"><span style="letter-spacing:-.10px">+ Neue Aufgabe</span></div>
</div>

</body>
</html>
